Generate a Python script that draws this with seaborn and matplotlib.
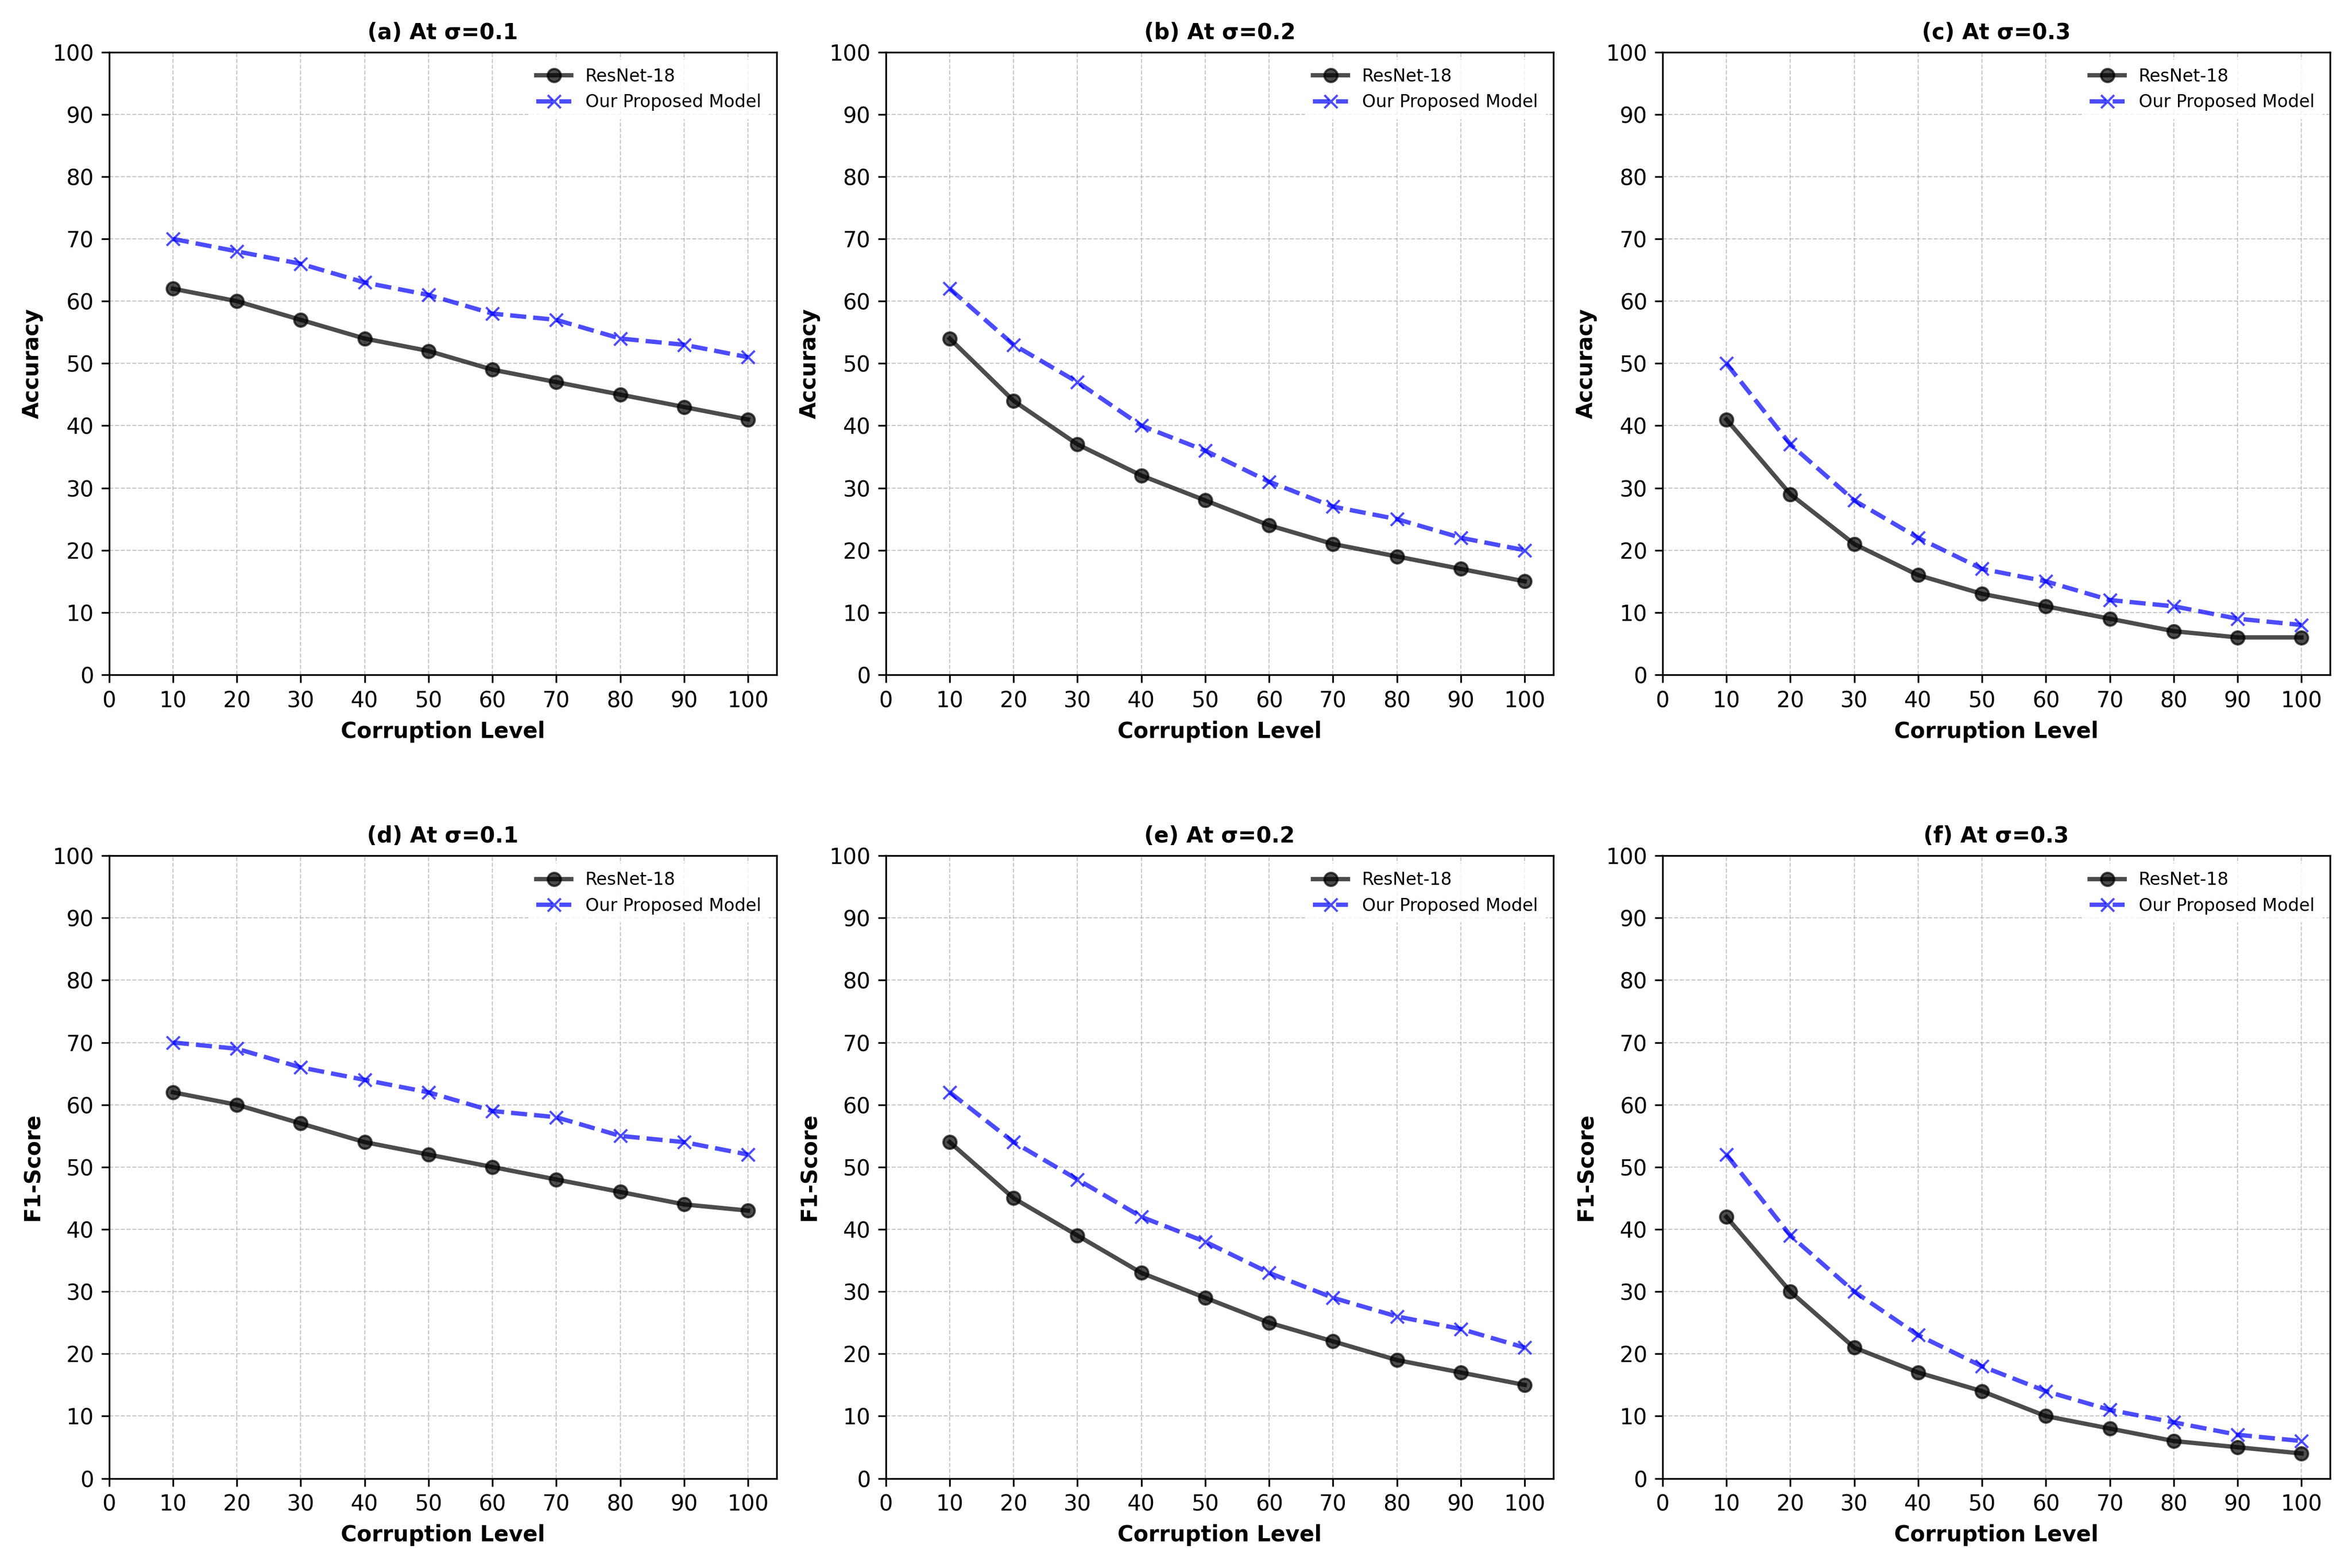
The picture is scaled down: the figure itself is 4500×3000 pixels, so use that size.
import pandas as pd
import matplotlib
matplotlib.use("Agg")
import matplotlib.pyplot as plt
import seaborn as sns

corruption_levels = [10, 20, 30, 40, 50, 60, 70, 80, 90, 100]

# accuracy, sigma 0.1 / 0.2 / 0.3
acc_resnet_01 = [62, 60, 57, 54, 52, 49, 47, 45, 43, 41]
acc_ours_01 = [70, 68, 66, 63, 61, 58, 57, 54, 53, 51]
acc_resnet_02 = [54, 44, 37, 32, 28, 24, 21, 19, 17, 15]
acc_ours_02 = [62, 53, 47, 40, 36, 31, 27, 25, 22, 20]
acc_resnet_03 = [41, 29, 21, 16, 13, 11, 9, 7, 6, 6]
acc_ours_03 = [50, 37, 28, 22, 17, 15, 12, 11, 9, 8]

# f1-score, sigma 0.1 / 0.2 / 0.3
f1_resnet_01 = [62, 60, 57, 54, 52, 50, 48, 46, 44, 43]
f1_ours_01 = [70, 69, 66, 64, 62, 59, 58, 55, 54, 52]
f1_resnet_02 = [54, 45, 39, 33, 29, 25, 22, 19, 17, 15]
f1_ours_02 = [62, 54, 48, 42, 38, 33, 29, 26, 24, 21]
f1_resnet_03 = [42, 30, 21, 17, 14, 10, 8, 6, 5, 4]
f1_ours_03 = [52, 39, 30, 23, 18, 14, 11, 9, 7, 6]

panels = [
    ("(a) At σ=0.1", "Accuracy", acc_resnet_01, acc_ours_01),
    ("(b) At σ=0.2", "Accuracy", acc_resnet_02, acc_ours_02),
    ("(c) At σ=0.3", "Accuracy", acc_resnet_03, acc_ours_03),
    ("(d) At σ=0.1", "F1-Score", f1_resnet_01, f1_ours_01),
    ("(e) At σ=0.2", "F1-Score", f1_resnet_02, f1_ours_02),
    ("(f) At σ=0.3", "F1-Score", f1_resnet_03, f1_ours_03),
]

fig, axes = plt.subplots(2, 3, figsize=(15, 10))

for ax, (title, metric, resnet, ours) in zip(axes.flat, panels):
    df = pd.DataFrame({"level": corruption_levels, "resnet": resnet, "ours": ours})
    sns.lineplot(data=df, x="level", y="resnet", ax=ax, label="ResNet-18",
                 color="black", marker="o", markersize=6, linewidth=2, alpha=0.7,
                 markeredgecolor="black", markeredgewidth=1)
    sns.lineplot(data=df, x="level", y="ours", ax=ax, label="Our Proposed Model",
                 color="blue", marker="x", markersize=6, linewidth=2, alpha=0.7,
                 linestyle="--", markeredgecolor="blue", markeredgewidth=1)
    ax.set_title(title, fontsize=10, fontweight="bold")
    ax.set_xlabel("Corruption Level", fontsize=10, fontweight="bold")
    ax.set_ylabel(metric, fontsize=10, fontweight="bold")
    ax.set_xticks(range(0, 101, 10))
    ax.set_ylim(0, 100)
    ax.set_yticks(range(0, 101, 10))
    ax.grid(True, linestyle="--", linewidth=0.5, alpha=0.7)
    ax.legend(loc="upper right", fontsize=8, edgecolor="white")

plt.tight_layout(pad=1.0, h_pad=3.8)
plt.savefig("out.png", dpi=300)
